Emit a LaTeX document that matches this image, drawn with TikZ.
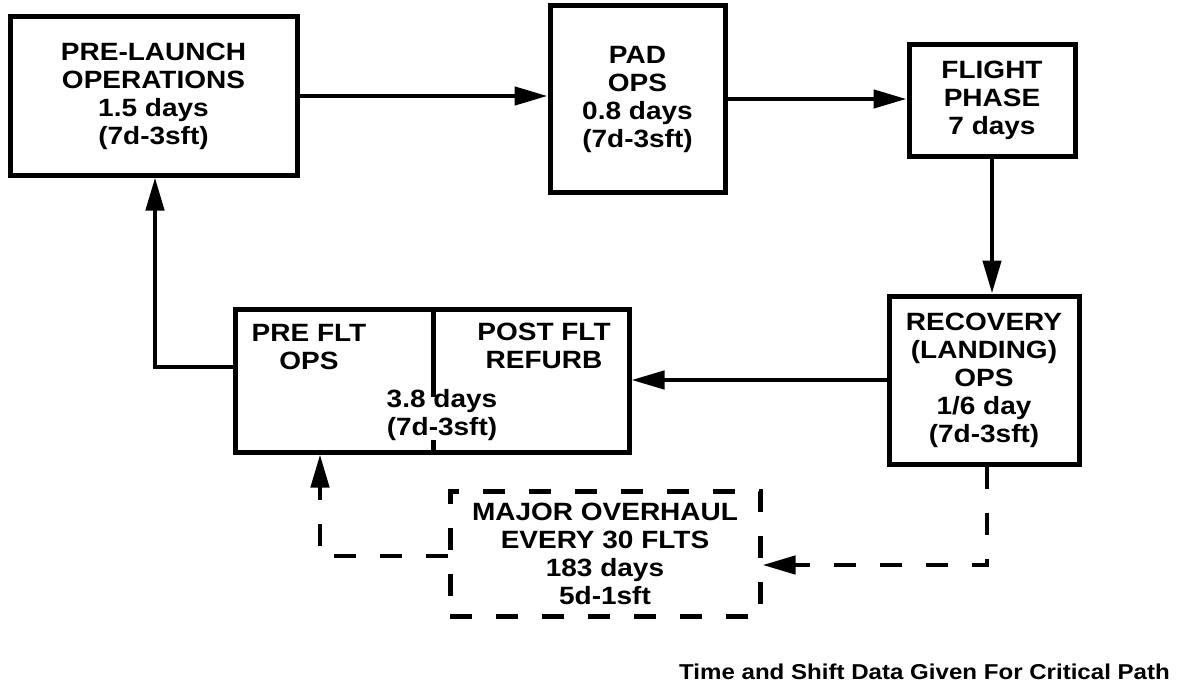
\documentclass[tikz,border=0pt]{standalone}
\usepackage{fontspec}
\setmainfont{Liberation Sans}[FakeStretch=1.12]
\usetikzlibrary{arrows.meta}
\begin{document}
\begin{tikzpicture}[x=1pt,y=-1pt,
  txt/.style={font=\bfseries\fontsize{25}{28}\selectfont, align=center, inner sep=0pt},
  box/.style={txt, draw, line width=5pt},
  dbox/.style={box, dash pattern=on 22pt off 24pt},
  conn/.style={line width=4.5pt, -{Triangle[length=33pt,width=18pt]}},
  dconn/.style={conn, dash pattern=on 22pt off 24pt},
]
\useasboundingbox[fill=white] (0,0) rectangle (1182,690);

\node[box, minimum width=287pt, minimum height=158pt] (prelaunch) at (153.5,96)
  {PRE-LAUNCH\\OPERATIONS\\1.5 days\\(7d-3sft)};
\node[box, minimum width=175pt, minimum height=186pt] (pad) at (637.5,99)
  {PAD\\OPS\\0.8 days\\(7d-3sft)};
\node[box, minimum width=166pt, minimum height=111pt] (flight) at (992,100.5)
  {FLIGHT\\PHASE\\7 days};
\node[box, minimum width=190pt, minimum height=168pt] (recovery) at (984,380)
  {RECOVERY\\(LANDING)\\OPS\\1/6 day\\(7d-3sft)};
\node[box, minimum width=394pt, minimum height=143pt] (prefltbox) at (432,380.5) {};
\node[txt] (preflt) at (309,347) {PRE FLT\\OPS};
\node[txt] (postflt) at (544,346) {POST FLT\\REFURB};
\node[txt] (refdays) at (442,415) {3.8 days\\(7d-3sft)};
\draw[line width=5pt] (433,309) -- (433,397);
\draw[line width=5pt] (433,440) -- (433,452);
\node[dbox, minimum width=310pt, minimum height=125pt] (overhaul) at (605,553.5)
  {MAJOR OVERHAUL\\EVERY 30 FLTS\\183 days\\5d-1sft};
\node[txt, font=\bfseries\fontsize{21.5}{26}\selectfont, anchor=base east] (note) at (1170,679)
  {Time and Shift Data Given For Critical Path};

\draw[conn] (prelaunch.east) -- (prelaunch.east -| pad.west);
\draw[conn] (pad.east) -- (pad.east -| flight.west);
\draw[conn] (flight.south) -- (flight.south |- recovery.north);
\draw[conn] (recovery.west) -- (recovery.west -| prefltbox.east);
\coordinate (c1) at (155,367);
\draw[conn] (prefltbox.west |- c1) -- (c1) -- (c1 |- prelaunch.south);
\coordinate (c2) at (987,565);
\draw[dconn] (recovery.south -| c2) -- (c2) -- (c2 -| overhaul.east);
\coordinate (c3) at (320,556);
\draw[dconn] (overhaul.west |- c3) -- (c3) -- (c3 |- prefltbox.south);
\end{tikzpicture}
\end{document}
